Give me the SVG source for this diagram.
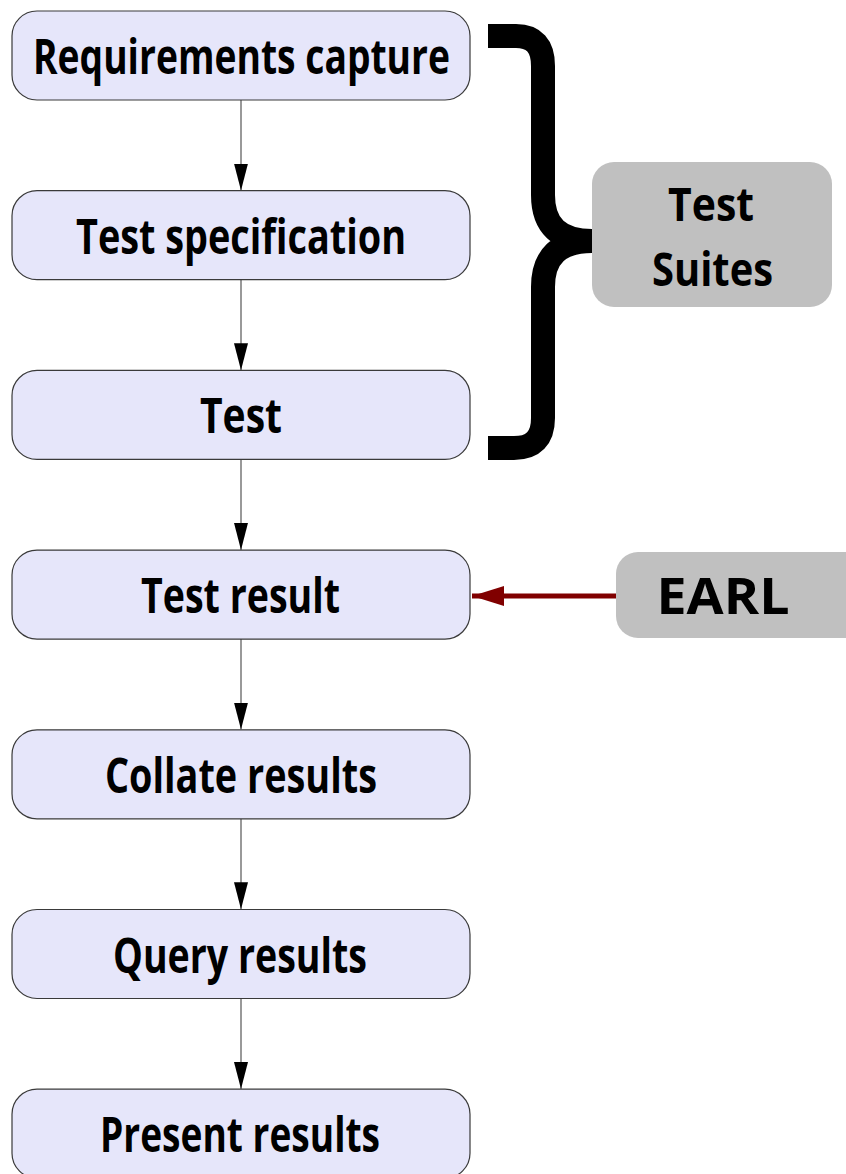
<svg xmlns="http://www.w3.org/2000/svg" width="846" height="1174" viewBox="0 0 846 1174">
<defs>
<style>
.box{fill:#e6e6fa;stroke:#3a3a3a;stroke-width:1.2}
.grey{fill:#c0c0c0}
.t{font-family:"Open Sans","Noto Sans","DejaVu Sans",sans-serif;font-weight:bold;font-size:48px;fill:#000;text-anchor:middle}
.tg{font-size:51px}
.ts{font-size:47px}
.conn{stroke:#555;stroke-width:1.2;fill:none}
.red{stroke:#800000;stroke-width:5;fill:none}
</style>
<marker id="ah" markerUnits="userSpaceOnUse" viewBox="0 0 27 14" refX="27" refY="7" markerWidth="27" markerHeight="14" orient="auto">
<path d="M0,0 L27,7 L0,14 z" fill="#000"/>
</marker>
<marker id="ahr" markerUnits="userSpaceOnUse" viewBox="0 0 32 20" refX="32" refY="10" markerWidth="32" markerHeight="20" orient="auto">
<path d="M0,0 L32,10 L0,20 z" fill="#800000"/>
</marker>
</defs>
<rect width="846" height="1174" fill="#fff"/>
<g id="connectors">
<line class="conn" x1="241" y1="100" x2="241" y2="190.5" marker-end="url(#ah)"/>
<line class="conn" x1="241" y1="279.7" x2="241" y2="370.2" marker-end="url(#ah)"/>
<line class="conn" x1="241" y1="459.4" x2="241" y2="549.9" marker-end="url(#ah)"/>
<line class="conn" x1="241" y1="639.1" x2="241" y2="729.6" marker-end="url(#ah)"/>
<line class="conn" x1="241" y1="818.8" x2="241" y2="909.3" marker-end="url(#ah)"/>
<line class="conn" x1="241" y1="998.5" x2="241" y2="1089" marker-end="url(#ah)"/>
<line class="red" x1="617" y1="596" x2="472" y2="596" marker-end="url(#ahr)"/>
<path id="brace" d="M488,36 H516 Q543,36 543,66 V195 Q543,241 592,241 Q543,241 543,287 V418 Q543,448 514,448 H488" fill="none" stroke="#000" stroke-width="24" stroke-linejoin="bevel"/>
</g>
<g id="n1"><rect class="box" x="12" y="11" width="458" height="89" rx="25"/><text class="t" x="241.5" y="74" textLength="417" lengthAdjust="spacingAndGlyphs">Requirements capture</text></g>
<g id="n2"><rect class="box" x="12" y="190.7" width="458" height="89" rx="25"/><text class="t" x="241" y="253.7" textLength="330" lengthAdjust="spacingAndGlyphs">Test specification</text></g>
<g id="n3"><rect class="box" x="12" y="370.4" width="458" height="89" rx="25"/><text class="t" x="241" y="433.4" textLength="82" lengthAdjust="spacingAndGlyphs">Test</text></g>
<g id="n4"><rect class="box" x="12" y="550.1" width="458" height="89" rx="25"/><text class="t" x="240.5" y="612.5" textLength="199" lengthAdjust="spacingAndGlyphs">Test result</text></g>
<g id="n5"><rect class="box" x="12" y="729.8" width="458" height="89" rx="25"/><text class="t" x="241" y="792.8" textLength="272" lengthAdjust="spacingAndGlyphs">Collate results</text></g>
<g id="n6"><rect class="box" x="12" y="909.5" width="458" height="89" rx="25"/><text class="t" x="240" y="972.5" textLength="254" lengthAdjust="spacingAndGlyphs">Query results</text></g>
<g id="n7"><rect class="box" x="12" y="1089.2" width="458" height="89" rx="25"/><text class="t" x="240" y="1152.2" textLength="280" lengthAdjust="spacingAndGlyphs">Present results</text></g>
<g id="suites"><rect class="grey" x="592" y="162" width="240" height="145" rx="22"/><text class="t ts" x="711" y="221" textLength="86" lengthAdjust="spacingAndGlyphs">Test</text><text class="t ts" x="712.5" y="286" textLength="121" lengthAdjust="spacingAndGlyphs">Suites</text></g>
<g id="earl"><rect class="grey" x="616" y="552" width="250" height="86" rx="22"/><text class="t tg" x="723" y="614" textLength="133" lengthAdjust="spacingAndGlyphs">EARL</text></g>
</svg>
